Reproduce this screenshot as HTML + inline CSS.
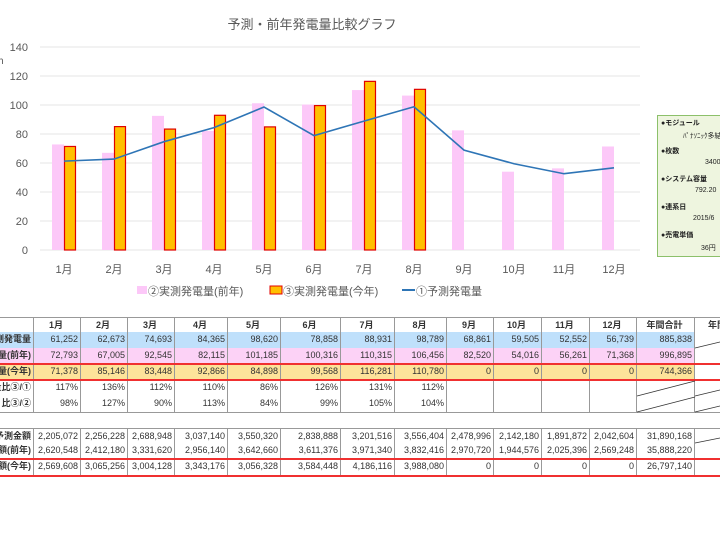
<!DOCTYPE html>
<html><head><meta charset="utf-8"><style>
body{margin:0;width:720px;height:540px;background:#fff;overflow:hidden;position:relative;font-family:"Liberation Sans","Noto Sans CJK JP",sans-serif}
.c{position:absolute;box-sizing:border-box;border-right:1px solid #999;border-bottom:1px solid #999;font-size:9px;text-align:right;padding-right:2px;white-space:nowrap;overflow:hidden;color:#333;line-height:15px}
.h{text-align:center;font-weight:bold}
.l{text-align:right;font-weight:bold;direction:rtl}
</style></head><body>
<svg width="720" height="310" style="position:absolute;left:0;top:0" font-family="Liberation Sans, Noto Sans CJK JP, sans-serif">
<text x="312" y="29" font-size="13" fill="#595959" text-anchor="middle">予測・前年発電量比較グラフ</text>
<g stroke="#e6e6e6" stroke-width="1">
<line x1="40" x2="640" y1="47" y2="47"/><line x1="40" x2="640" y1="76" y2="76"/><line x1="40" x2="640" y1="105" y2="105"/><line x1="40" x2="640" y1="134" y2="134"/><line x1="40" x2="640" y1="163" y2="163"/><line x1="40" x2="640" y1="192" y2="192"/><line x1="40" x2="640" y1="221" y2="221"/><line x1="40" x2="640" y1="250" y2="250"/>
</g>
<g font-size="11" fill="#595959" text-anchor="end">
<text x="28" y="51">140</text><text x="28" y="80">120</text><text x="28" y="109">100</text><text x="28" y="138">80</text><text x="28" y="167">60</text><text x="28" y="196">40</text><text x="28" y="225">20</text><text x="28" y="254">0</text>
</g>
<text x="-2" y="64" font-size="10" fill="#595959">h</text>
<g id="bars"></g>
<g font-size="11" fill="#595959" text-anchor="middle">
<text x="64" y="273">1月</text><text x="114" y="273">2月</text><text x="164" y="273">3月</text><text x="214" y="273">4月</text><text x="264" y="273">5月</text><text x="314" y="273">6月</text><text x="364" y="273">7月</text><text x="414" y="273">8月</text><text x="464" y="273">9月</text><text x="514" y="273">10月</text><text x="564" y="273">11月</text><text x="614" y="273">12月</text>
</g>
<rect x="137" y="286" width="10" height="8" fill="#fcc8f8"/>
<text x="148" y="295" font-size="11" fill="#595959">②実測発電量(前年)</text>
<rect x="270" y="286" width="12" height="8" fill="#ffc000" stroke="#e00000"/>
<text x="283" y="295" font-size="11" fill="#595959">③実測発電量(今年)</text>
<line x1="402" x2="415" y1="290" y2="290" stroke="#2e75b6" stroke-width="2"/>
<text x="416" y="295" font-size="11" fill="#595959">①予測発電量</text>
</svg>
<div style="position:absolute;left:657px;top:115px;width:70px;height:140px;background:#eef5df;border:1px solid #8cc06a;font-size:7px;font-weight:bold;color:#222">
<div style="position:absolute;left:3px;top:2px">●モジュール</div>
<div style="position:absolute;left:25px;top:15px;font-weight:normal;white-space:nowrap">ﾊﾟﾅｿﾆｯｸ多結晶</div>
<div style="position:absolute;left:3px;top:30px">●枚数</div>
<div style="position:absolute;left:47px;top:43px;font-weight:normal">3400</div>
<div style="position:absolute;left:3px;top:58px">●システム容量</div>
<div style="position:absolute;left:37px;top:71px;font-weight:normal">792.20</div>
<div style="position:absolute;left:3px;top:86px">●連系日</div>
<div style="position:absolute;left:35px;top:99px;font-weight:normal">2015/6</div>
<div style="position:absolute;left:3px;top:114px">●売電単価</div>
<div style="position:absolute;left:43px;top:127px;font-weight:normal">36円</div>
</div>
<div id="t"></div>
<script>
var pink=[72.8,67.0,92.5,82.1,101.2,100.3,110.3,106.5,82.5,54.0,56.3,71.4],
org=[71.4,85.1,83.4,92.9,84.9,99.6,116.3,110.8],
ln=[61.3,62.7,74.7,84.4,98.6,78.9,88.9,98.8,68.9,59.5,52.6,56.7];
var s="",Y=function(v){return 250-v*1.45};
for(var i=0;i<12;i++){var cx=64+50*i;
s+='<rect x="'+(cx-12)+'" y="'+Y(pink[i])+'" width="12" height="'+(pink[i]*1.45)+'" fill="#fcc8f8"/>';
if(i<8)s+='<rect x="'+(cx+0.5)+'" y="'+Y(org[i])+'" width="11" height="'+(org[i]*1.45)+'" fill="#ffc000" stroke="#e00000" stroke-width="1.2"/>';}
var p=ln.map(function(v,i){return (64+50*i)+","+Y(v)}).join(" ");
s+='<polyline points="'+p+'" fill="none" stroke="#2e75b6" stroke-width="1.6"/>';
document.getElementById("bars").innerHTML=s;
var xs=[0,34,81,128,175,228,281,341,395,447,494,542,590,637,695,760];
var rows=[
[317,332,"#fff",["","1月","2月","3月","4月","5月","6月","7月","8月","9月","10月","11月","12月","年間合計","年間実績"],1],
[332,348,"#bfe0fb",["予測発電量","61,252","62,673","74,693","84,365","98,620","78,858","88,931","98,789","68,861","59,505","52,552","56,739","885,838",""]],
[348,364,"#fcd2f6",["実測発電量(前年)","72,793","67,005","92,545","82,115","101,185","100,316","110,315","106,456","82,520","54,016","56,261","71,368","996,895",""]],
[364,380,"#fde39a",["実測発電量(今年)","71,378","85,146","83,448","92,866","84,898","99,568","116,281","110,780","0","0","0","0","744,366",""]],
[380,396,"#fff",["発電量比③/①","117%","136%","112%","110%","86%","126%","131%","112%","","","","","",""]],
[396,412,"#fff",["比③/②","98%","127%","90%","113%","84%","99%","105%","104%","","","","","",""]],
[428,443,"#fff",["予測金額","2,205,072","2,256,228","2,688,948","3,037,140","3,550,320","2,838,888","3,201,516","3,556,404","2,478,996","2,142,180","1,891,872","2,042,604","31,890,168",""]],
[443,459,"#fff",["実測金額(前年)","2,620,548","2,412,180","3,331,620","2,956,140","3,642,660","3,611,376","3,971,340","3,832,416","2,970,720","1,944,576","2,025,396","2,569,248","35,888,220",""]],
[459,476,"#fff",["実測金額(今年)","2,569,608","3,065,256","3,004,128","3,343,176","3,056,328","3,584,448","4,186,116","3,988,080","0","0","0","0","26,797,140",""]]];
var h="";
rows.forEach(function(r,ri){for(var j=0;j<15;j++){
var cls="c"+(r[4]?" h":"")+(j==0&&!r[4]?" l":"");
var bg=(j==14)?"#fff":r[2];
var bt=(ri==0||ri==6)?"border-top:1px solid #999;":"";
h+='<div class="'+cls+'" style="left:'+xs[j]+'px;top:'+r[0]+'px;width:'+(xs[j+1]-xs[j])+'px;height:'+(r[1]-r[0]+1)+'px;background:'+bg+';'+bt+'">'+(j==0&&!r[4]?'<span style="direction:ltr;unicode-bidi:bidi-override">'+r[3][j]+'</span>':r[3][j])+'</div>';}});
[364,380,459,476].forEach(function(l){h+='<div style="position:absolute;left:0;top:'+(l-1)+'px;width:720px;height:2px;background:#f03030"></div>'});
h+='<svg width="720" height="540" style="position:absolute;left:0;top:0"><g stroke="#333" stroke-width="0.8"><line x1="637" y1="396" x2="695" y2="381"/><line x1="637" y1="412" x2="695" y2="397"/><line x1="695" y1="348" x2="720" y2="342"/><line x1="695" y1="396" x2="720" y2="390"/><line x1="695" y1="412" x2="720" y2="406"/><line x1="695" y1="443" x2="720" y2="438"/></g></svg>';
document.getElementById("t").innerHTML=h;
</script>
</body></html>
